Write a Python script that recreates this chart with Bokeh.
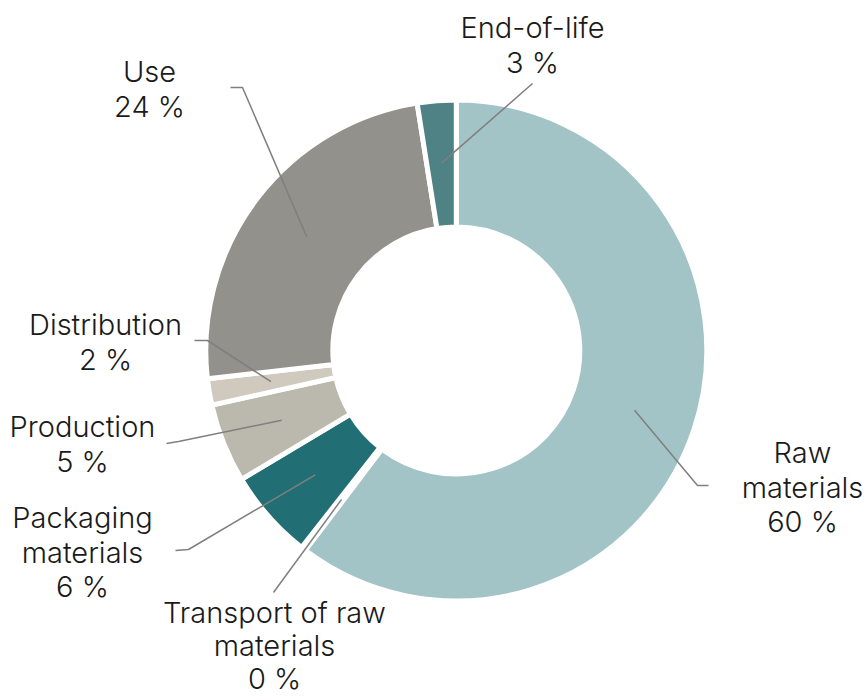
import math
from bokeh.plotting import figure
from bokeh.models import Range1d, ColumnDataSource
from bokeh.core.properties import value
from bokeh.embed import file_html
from bokeh.resources import INLINE

# ---- data ----
categories = ["Raw materials", "Transport of raw materials", "Packaging materials",
              "Production", "Distribution", "Use", "End-of-life"]
shares = [60.3, 0.3, 5.8, 5.1, 1.7, 24.3, 2.5]
pct_labels = ["60 %", "0 %", "6 %", "5 %", "2 %", "24 %", "3 %"]
label_lines = [["Raw", "materials"], ["Transport of raw", "materials"],
               ["Packaging", "materials"], ["Production"], ["Distribution"],
               ["Use"], ["End-of-life"]]
colors = ["#a3c4c6", "#3f7b7f", "#216f74", "#bbb9ae", "#d0cabe", "#93918b", "#4e8285"]

# ---- layout (reference pixel coordinates) ----
W, H = 866, 699
def px(x, y):
    return x, H - y

CX, CY = px(455.8, 350)
R_OUT, R_IN = 250.5, 123.5
R_LEAD = 188
label_anchor = [(802, 452), (274, 612), (82, 517), (82, 426), (105, 324), (149, 71), (532, 27)]
label_gap = [34.5, 33, 34.5, 34.5, 34.5, 34.5, 34.5]
leader_pts = [[(697, 485), (708, 485)], [(273, 592)], [(188, 549), (175, 550)],
              [(178, 441), (166, 443)], [(207, 340), (194, 340)],
              [(242, 87), (230, 87)], [(532, 83)]]

p = figure(width=W, height=H, x_range=Range1d(0, W), y_range=Range1d(0, H),
           output_backend="svg", toolbar_location=None, min_border=0,
           outline_line_color=None)
p.axis.visible = False
p.grid.visible = False
p.background_fill_color = "white"
p.border_fill_color = "white"

total = sum(shares)
starts, ends, mids = [], [], []
cum = 0.0
for s in shares:
    c0 = cum / total * 2 * math.pi
    cum += s
    c1 = cum / total * 2 * math.pi
    starts.append(math.pi / 2 - c1)
    ends.append(math.pi / 2 - c0)
    mids.append(math.pi / 2 - (c0 + c1) / 2)

src = ColumnDataSource(dict(x=[CX] * len(shares), y=[CY] * len(shares),
                            start=starts, end=ends, color=colors, cat=categories))
p.annular_wedge(x="x", y="y", inner_radius=R_IN, outer_radius=R_OUT,
                start_angle="start", end_angle="end", fill_color="color",
                line_color="white", line_width=5, source=src)

# leader lines
xs, ys = [], []
for m, pts in zip(mids, leader_pts):
    lx = [CX + R_LEAD * math.cos(m)]
    ly = [CY + R_LEAD * math.sin(m)]
    for (a, b) in pts:
        dx, dy = px(a, b)
        lx.append(dx)
        ly.append(dy)
    xs.append(lx)
    ys.append(ly)
p.multi_line(xs=xs, ys=ys, line_color="#7f7f7f", line_width=1.5)

# labels
tx, ty, tt = [], [], []
for lines, pct, (ax, ay), g in zip(label_lines, pct_labels, label_anchor, label_gap):
    for i, t in enumerate(lines + [pct]):
        x, y = px(ax, ay + i * g)
        tx.append(x)
        ty.append(y)
        tt.append(t)
p.text(x=tx, y=ty, text=tt, text_font=value("Inter Light, Inter"), text_font_size="29px",
       text_color="#1a1a1a", text_align="center", text_baseline="middle")

open("out.html", "w").write(file_html(p, INLINE))
